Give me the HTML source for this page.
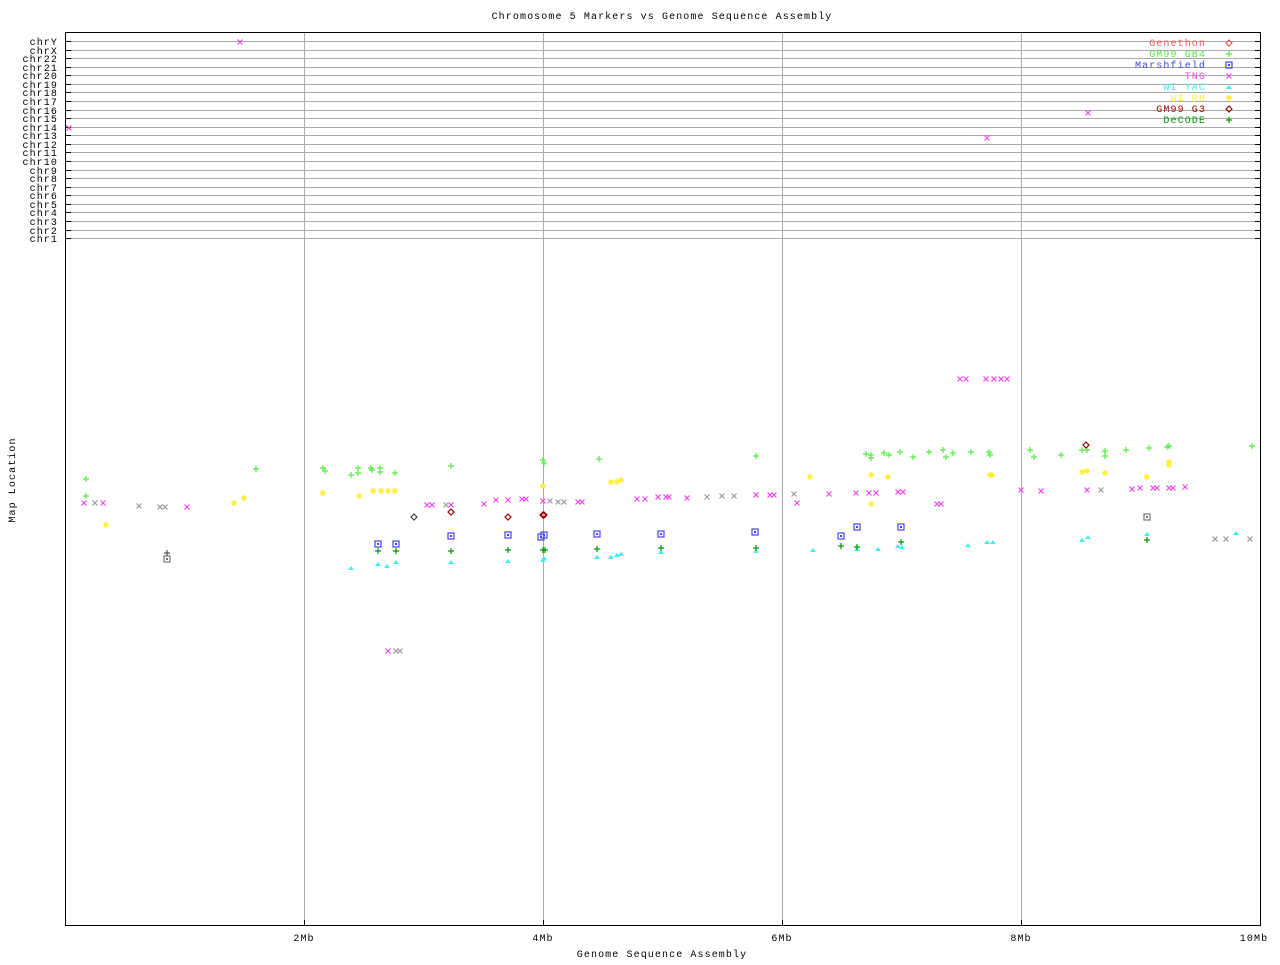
<!DOCTYPE html>
<html><head><meta charset="utf-8"><style>
html,body{margin:0;padding:0;background:#fff;}
svg text{font-family:"Liberation Mono","DejaVu Sans Mono",monospace;font-size:10px;letter-spacing:1.1px;}
</style></head><body>
<svg width="1280" height="960" xmlns="http://www.w3.org/2000/svg">
<defs>
<g id="p"><path d="M-3,0H3M0,-3V3" stroke-width="1.2"/></g>
<g id="x"><path d="M-2.5,-2.5L2.5,2.5M-2.5,2.5L2.5,-2.5" stroke-width="1.2"/></g>
<g id="s"><rect x="-3" y="-3" width="6" height="6" fill="none" stroke-width="1.2"/><rect x="-0.5" y="-0.5" width="1" height="1"/></g>
<g id="t"><path d="M-3,2L0,-2L3,2Z" stroke="none"/></g>
<g id="a"><path d="M-3,0H3M0,-3V3M-2,-2L2,2M-2,2L2,-2" stroke-width="1.2"/></g>
<g id="d"><path d="M0,-3L3,0L0,3L-3,0Z" fill="none" stroke-width="1.2"/></g>
</defs>
<rect x="0" y="0" width="1280" height="960" fill="#fff"/>
<g stroke="#aaa" stroke-width="1">
<line x1="304.5" y1="33" x2="304.5" y2="926"/><line x1="543.5" y1="33" x2="543.5" y2="926"/><line x1="782.5" y1="33" x2="782.5" y2="926"/><line x1="1021.5" y1="33" x2="1021.5" y2="926"/>
</g>
<g id="hl" stroke="#aaa"></g>
<rect x="65.5" y="32.5" width="1195" height="893" fill="none" stroke="#000"/>
<g id="ylab" text-anchor="end"></g>
<script>
var names=["chrY","chrX","chr22","chr21","chr20","chr19","chr18","chr17","chr16","chr15","chr14","chr13","chr12","chr11","chr10","chr9","chr8","chr7","chr6","chr5","chr4","chr3","chr2","chr1"];
var NS="http://www.w3.org/2000/svg",hl=document.getElementById("hl"),yl=document.getElementById("ylab");
names.forEach(function(n,i){var y=Math.round(41+i*8.57)+0.5;
var l=document.createElementNS(NS,"line");l.setAttribute("x1",66);l.setAttribute("x2",1260);l.setAttribute("y1",y);l.setAttribute("y2",y);hl.appendChild(l);
["66","1255"].forEach(function(x){var t=document.createElementNS(NS,"line");t.setAttribute("x1",x);t.setAttribute("x2",+x+5);t.setAttribute("y1",y);t.setAttribute("y2",y);t.setAttribute("stroke","#000");hl.appendChild(t);});
var tx=document.createElementNS(NS,"text");tx.setAttribute("x",58);tx.setAttribute("y",y+3.5);tx.textContent=n;yl.appendChild(tx);});
</script>
<g stroke="#000"><line x1="304.5" y1="920" x2="304.5" y2="926"/><line x1="543.5" y1="920" x2="543.5" y2="926"/><line x1="782.5" y1="920" x2="782.5" y2="926"/><line x1="1021.5" y1="920" x2="1021.5" y2="926"/></g>
<g text-anchor="middle">
<text x="662" y="19">Chromosome 5 Markers vs Genome Sequence Assembly</text>
<text x="304" y="941">2Mb</text><text x="543" y="941">4Mb</text><text x="782" y="941">6Mb</text><text x="1021" y="941">8Mb</text><text x="1254" y="941">10Mb</text>
<text x="662" y="957">Genome Sequence Assembly</text>
<text transform="translate(15,480) rotate(-90)">Map Location</text>
</g>
<g id="pts"></g>
<g text-anchor="end">
<text x="1206" y="46" fill="#ee5555">Genethon</text>
<text x="1206" y="57" fill="#55ee44">GM99 GB4</text>
<text x="1206" y="68" fill="#4444ee">Marshfield</text>
<text x="1206" y="79" fill="#ee44ee">TNG</text>
<text x="1206" y="90" fill="#44eeee">WI YAC</text>
<text x="1206" y="101" fill="#ffee33">WI RH</text>
<text x="1206" y="112" fill="#990000">GM99 G3</text>
<text x="1206" y="123" fill="#009900">DeCODE</text>
</g>
<script>
function add(sym,col,arr){var g=document.getElementById("pts");arr.forEach(function(p){var u=document.createElementNS(NS,"use");u.setAttribute("href","#"+sym);u.setAttribute("transform","translate("+p[0]+","+p[1]+")");u.setAttribute("stroke",col);u.setAttribute("fill",col);g.appendChild(u);});}
add("d","#ee5555",[[1229,43]]);add("p","#55ee44",[[1229,54]]);add("s","#4444ee",[[1229,65]]);add("x","#ee44ee",[[1229,76]]);add("t","#44eeee",[[1229,87]]);add("a","#ffee33",[[1229,98]]);add("d","#990000",[[1229,109]]);add("p","#009900",[[1229,120]]);
add("p","#55ee44",[[86,479],[86,496],[256,469],[323,468],[325,471],[351,475],[358,468],[358,473],[371,468],[372,470],[380,468],[380,472],[395,473],[451,466],[543,460],[544,463],[599,459],[756,456],[866,454],[871,455],[871,458],[884,453],[889,455],[900,452],[913,457],[929,452],[943,450],[946,457],[953,453],[971,452],[989,452],[990,455],[1030,450],[1034,457],[1061,455],[1082,450],[1087,450],[1105,451],[1105,456],[1126,450],[1149,448],[1167,447],[1169,446],[1252,446]]);
add("a","#ffee33",[[106,525],[234,503],[244,498],[323,493],[359,496],[373,491],[381,491],[388,491],[395,491],[543,486],[611,482],[617,482],[621,480],[810,477],[871,475],[888,477],[871,504],[990,475],[992,475],[1082,472],[1087,471],[1105,473],[1147,477],[1169,465],[1169,462]]);
add("x","#ee44ee",[[69,128],[240,42],[84,503],[103,503],[187,507],[427,505],[432,505],[451,505],[484,504],[496,500],[508,500],[522,499],[526,499],[543,501],[578,502],[582,502],[637,499],[645,499],[658,497],[666,497],[669,497],[687,498],[756,495],[770,495],[774,495],[797,503],[829,494],[856,493],[869,493],[876,493],[898,492],[903,492],[937,504],[941,504],[960,379],[966,379],[986,379],[994,379],[1001,379],[1007,379],[1021,490],[1041,491],[1087,490],[1132,489],[1140,488],[1153,488],[1157,488],[1169,488],[1173,488],[1185,487],[1088,113],[987,138],[388,651]]);
add("x","#999",[[95,503],[139,506],[160,507],[165,507],[446,505],[550,501],[558,502],[564,502],[707,497],[722,496],[734,496],[794,494],[1101,490],[396,651],[400,651],[1215,539],[1226,539],[1250,539]]);
add("s","#4444ee",[[378,544],[396,544],[451,536],[508,535],[541,537],[544,535],[597,534],[661,534],[755,532],[841,536],[857,527],[901,527]]);
add("s","#777",[[167,559],[1147,517]]);
add("t","#44eeee",[[351,568],[378,564],[387,566],[396,562],[451,562],[508,561],[543,560],[544,558],[597,557],[611,557],[617,555],[621,554],[661,552],[756,551],[813,550],[857,549],[878,549],[898,546],[902,547],[968,545],[987,542],[993,542],[1082,540],[1088,537],[1147,534],[1236,533]]);
add("p","#009900",[[378,551],[396,551],[451,551],[508,550],[543,550],[545,550],[597,549],[661,548],[756,548],[841,546],[857,547],[901,542],[1147,540]]);
add("p","#555",[[167,553]]);
add("d","#990000",[[451,512],[508,517],[543,515],[544,515],[1086,445]]);
add("d","#444",[[414,517]]);
</script>
</svg>
</body></html>
